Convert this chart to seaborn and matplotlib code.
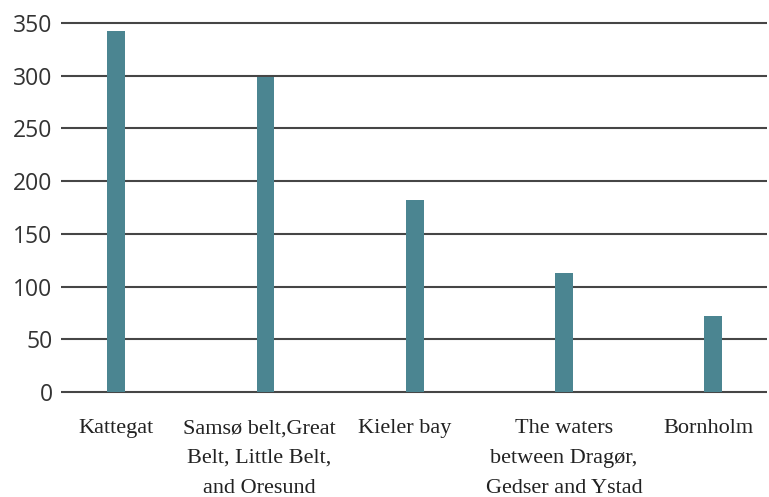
import matplotlib
matplotlib.use("Agg")
import matplotlib.pyplot as plt
import matplotlib.transforms as mtransforms
import seaborn as sns
import pandas as pd

# Sea areas and their values
areas = [
    "Kattegat",
    "Samsø belt,Great\nBelt, Little Belt,\nand Oresund",
    "Kieler bay",
    "The waters\nbetween Dragør,\nGedser and Ystad",
    "Bornholm",
]
values = [342, 299, 182, 113, 72]
y_ticks = [0, 50, 100, 150, 200, 250, 300, 350]

df = pd.DataFrame({"area": areas, "value": values})

sns.set_theme(style="white")
plt.rcParams["font.family"] = ["Open Sans", "DejaVu Sans"]

fig = plt.figure(figsize=(7.69, 4.97), dpi=100)
W, H = 769, 497
ax_left, ax_right = 61, 767
ax_top, ax_bottom = 20.9, 394.1
ax = fig.add_axes([ax_left / W, 1 - ax_bottom / H,
                   (ax_right - ax_left) / W, (ax_bottom - ax_top) / H])

sns.barplot(data=df, x="area", y="value", color="#4b8591", saturation=1,
            width=0.12, linewidth=0, ax=ax, zorder=3)

ax.set_ylim(-2, 352)
ax.set_xlim(-0.37, 4.36)
ax.set_yticks(y_ticks)
ax.set_xlabel("")
ax.set_ylabel("")

# horizontal rules
for v in y_ticks:
    ax.axhline(v, color="#464646", lw=1.5, zorder=1)

for s in ax.spines.values():
    s.set_visible(False)
ax.tick_params(axis="both", length=0)
ax.tick_params(axis="y", pad=6, labelsize=16.5, labelcolor="#333333")
ax.tick_params(axis="x", pad=18, labelsize=16, labelcolor="#222222")

# serif category labels, nudged slightly relative to the bars
nudges_px = [0, -6, -10, 0, -5]
for lab, dx in zip(ax.get_xticklabels(), nudges_px):
    lab.set_fontfamily(["Liberation Serif", "DejaVu Serif"])
    lab.set_linespacing(1.78)
    lab.set_verticalalignment("top")
    lab.set_transform(lab.get_transform() +
                      mtransforms.ScaledTranslation(dx / 100, 0, fig.dpi_scale_trans))

for lab in ax.get_yticklabels():
    lab.set_fontfamily(["Open Sans", "DejaVu Sans"])

fig.savefig("out.png", dpi=100, facecolor="white")
